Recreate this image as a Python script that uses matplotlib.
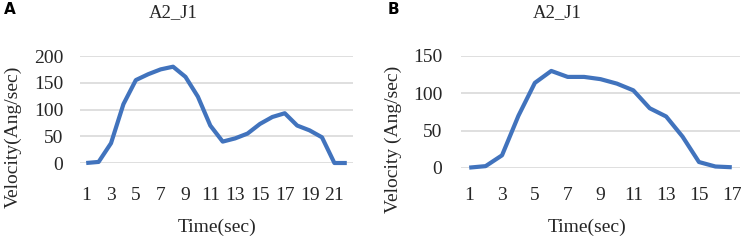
import numpy as np
import matplotlib
matplotlib.use("Agg")
from matplotlib import pyplot as plt

# panel A: 22 samples, panel B: 17 samples
time_a = list(range(1, 23))
vel_a = [0, 2, 37, 110, 155, 166, 175, 180, 161, 124, 70, 40,
         46, 55, 73, 86, 93, 70, 61, 48, 0, 0]

time_b = list(range(1, 18))
vel_b = [0.5, 2.5, 17, 70, 114, 130, 122, 122, 119, 113, 104, 80,
         69, 42, 8, 2, 1]

ticks_a = list(range(1, 22, 2))
ticks_b = list(range(1, 18, 2))

title = "A2_J1"
line_color = "#4173bd"
grid_color = "#d9d9d9"

plt.rcParams['font.family'] = ['Liberation Serif', 'DejaVu Serif']

W, H = 743, 243
fig = plt.figure(figsize=(W / 100, H / 100), dpi=100)


def px_axes(left, top, right, bottom):
    return fig.add_axes([left / W, 1 - bottom / H, (right - left) / W, (bottom - top) / H])


def style(ax, x, y, ticks, ymax, xpad, ypad):
    ax.plot(x, y, color=line_color, lw=3.0, solid_joinstyle='round', solid_capstyle='butt',
            clip_on=False, zorder=3)
    ax.set_xlim(0.5, len(x) + 0.5)
    ax.set_ylim(0, ymax)
    ax.set_yticks(np.arange(0, ymax + 1, 50))
    ax.set_xticks(ticks)
    ax.grid(axis='y', color=grid_color, lw=1.2)
    ax.set_axisbelow(True)
    for s in ax.spines.values():
        s.set_visible(False)
    ax.tick_params(length=0, labelsize=14, colors='#262626')
    ax.tick_params(axis='x', pad=xpad)
    ax.tick_params(axis='y', pad=ypad)


ax1 = px_axes(80, 56, 353, 163)
style(ax1, time_a, vel_a, ticks_a, 200, 17, 12)

ax2 = px_axes(461, 56, 740, 168)
style(ax2, time_b, vel_b, ticks_b, 150, 13.5, 13.5)

# titles and axis titles placed like the Excel charts
fig.text(173 / W, 1 - 13 / H, title, ha='center', va='center', fontsize=13.5, color='#262626')
fig.text(557 / W, 1 - 13 / H, title, ha='center', va='center', fontsize=13.5, color='#262626')

fig.text(217 / W, 1 - 227 / H, "Time(sec)", ha='center', va='center', fontsize=14, color='#262626')
fig.text(587 / W, 1 - 227 / H, "Time(sec)", ha='center', va='center', fontsize=14, color='#262626')

fig.text(13 / W, 1 - 137 / H, "Velocity(Ang/sec)", ha='center', va='center', rotation=90,
         fontsize=14, color='#262626')
fig.text(393 / W, 1 - 139 / H, "Velocity (Ang/sec)", ha='center', va='center', rotation=90,
         fontsize=14, color='#262626')

fig.text(10 / W, 1 - 9 / H, "A", ha='center', va='center', fontsize=11, fontweight='bold',
         family='DejaVu Sans')
fig.text(393 / W, 1 - 9 / H, "B", ha='center', va='center', fontsize=11, fontweight='bold',
         family='DejaVu Sans')

fig.savefig("out.png", dpi=100)
